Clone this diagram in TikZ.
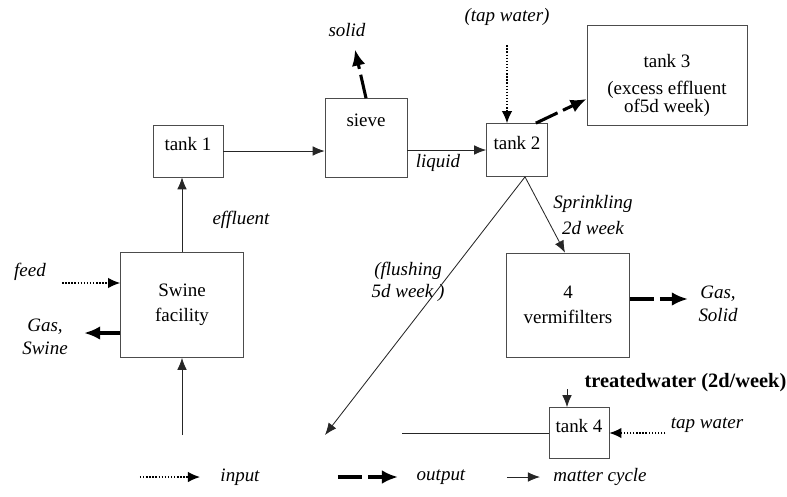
\documentclass[tikz,border=0pt]{standalone}
\usepackage{fontspec}
\setmainfont{Liberation Serif}
\usetikzlibrary{arrows.meta,calc}

\tikzset{
  box/.style={draw=black!70, line width=0.5pt, inner sep=2pt, align=center},
  tankbox/.style={box, text depth=0.35cm},
  lbl/.style={font=\fontsize{13.5}{16}\selectfont\itshape, align=center, inner sep=1pt},
  inflow/.style={draw=black, line width=0.9pt, dash pattern=on 1pt off 1.2pt, -{Latex[length=3mm,width=2.6mm]}},
  outflow/.style={draw=black, line width=2.2pt, dash pattern=on 6mm off 1.5mm, -{Latex[length=4mm,width=3.4mm]}},
  matterflow/.style={draw=black!85, line width=0.6pt, -{Latex[length=3mm,width=2.4mm]}},
}

\begin{document}
\begin{tikzpicture}[x=0.025cm, y=-0.025cm, every node/.style={font=\fontsize{13.5}{16}\selectfont}]
			%%%%% START %%%%%
			\useasboundingbox (0,0) rectangle (787,496);
			
			% boxes
			\node[tankbox, minimum width=1.75cm, minimum height=1.3cm] (tank1) at (188,151) {tank 1};
			\node[box, minimum width=2.05cm, minimum height=1.975cm, text depth=0.9cm] (sieve) at (366,138) {sieve};
			\node[tankbox, minimum width=1.525cm, minimum height=1.325cm] (tank2) at (517,150) {tank 2};
			\node[box, minimum width=4cm, minimum height=2.5cm, text height=2cm, font=\fontsize{13.5}{13.5}\selectfont] (tank3) at (667,75) {tank 3\\[5pt](excess effluent\\of5d week)};
			\node[box, minimum width=3.075cm, minimum height=2.625cm] (swine) at (182,305) {Swine\\[2pt]facility};
			\node[box, minimum width=3.075cm, minimum height=2.6cm] (verm) at (568,305) {4\\[2pt]vermifilters};
			\node[tankbox, minimum width=1.5cm, minimum height=1.275cm] (tank4) at (579,433) {tank 4};
			
			% labels
			\node[lbl] (solid) at (347,30) {solid};
			\node[lbl] (tapa) at (507,17) {(tap water)};
			\node[lbl] (liquid) at (438,163) {liquid};
			\node[lbl] (sprink) at (593,215) {Sprinkling\\[3pt]2d week};
			\node[lbl] (flush) at (408,282) {(flushing\\5d week )};
			\node[lbl] (effl) at (241,220) {effluent};
			\node[lbl] (feed) at (30,272) {feed};
			\node[lbl] (gasa) at (45,337) {Gas,\\Swine};
			\node[lbl] (gasb) at (718,304) {Gas,\\Solid};
			\node[font=\fontsize{14.5}{17}\selectfont\bfseries, anchor=east, inner sep=1pt] (treated) at (788,383) {treatedwater (2d/week)};
			\node[lbl] (tapb) at (707,425) {tap water};
			
			\coordinate (split) at ([xshift=0.2cm]tank2.south);
			\coordinate (flushend) at (325,435);
			\coordinate (swinein) at (182,435);
			\coordinate (cycleend) at (402,433);
			
			% flows
			\draw[matterflow] (tank1.east) -- (tank1.east -| sieve.west);
			\draw[matterflow] (sieve.east |- tank2.west) -- (tank2.west);
			\draw[outflow] (sieve.north) -- ([shift={(0.2cm,-0.28cm)}]solid.south);
			\draw[inflow, shorten <=0.45cm] (tapa.south) -- (tapa.south |- tank2.north);
			\draw[outflow] ([xshift=-0.3cm]tank2.north east) -- ([yshift=-0.6cm]tank3.west);
			\draw[matterflow] (split) -- ([xshift=-0.075cm]verm.north);
			\draw[matterflow] (split) -- (flushend);
			\draw[matterflow] (swine.north) -- (swine.north |- tank1.south);
			\draw[matterflow] (swinein) -- (swine.south);
			\draw[inflow] ([yshift=0.55cm]swine.west) ++(-1.45cm,0) -- ([yshift=0.55cm]swine.west);
			\draw[outflow] ([yshift=-0.7cm]swine.west) -- ++(-0.9cm,0);
			\draw[outflow] ([yshift=0.15cm]verm.east) -- ++(1.45cm,0);
			\draw[matterflow] ([xshift=-0.3cm]tank4.north) ++(0,0.45cm) -- ([xshift=-0.3cm]tank4.north);
			\draw[inflow] ([xshift=1.4cm]tank4.east) -- (tank4.east);
			\draw[draw=black!85, line width=0.6pt] (cycleend) -- (tank4.west);
			
			% legend
			\node[lbl] (inlbl) at (240,477) {input};
			\node[lbl] (outlbl) at (441,477) {output};
			\node[lbl] (cyclbl) at (600,477) {matter cycle};
			\draw[inflow] ([xshift=-2.5cm]inlbl.center) -- ([xshift=-1cm]inlbl.center);
			\draw[outflow] ([xshift=-2.575cm]outlbl.center) -- ([xshift=-1.075cm]outlbl.center);
			\draw[matterflow] ([xshift=-2.325cm]cyclbl.center) -- ([xshift=-1.5cm]cyclbl.center);
			
			%%%%% END %%%%%
\end{tikzpicture}
\end{document}
